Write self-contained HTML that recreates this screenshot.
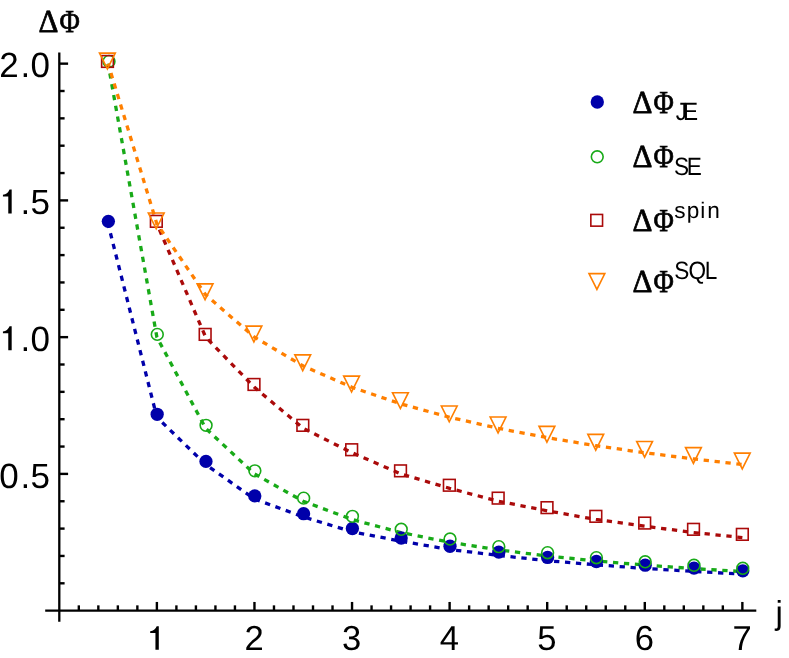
<!DOCTYPE html>
<html><head><meta charset="utf-8"><title>chart</title>
<style>html,body{margin:0;padding:0;background:#fff;}svg{display:block;will-change:transform;}</style>
</head><body>
<svg width="789" height="658" viewBox="0 0 789 658" text-rendering="geometricPrecision">
<rect width="789" height="658" fill="#fff"/>
<g stroke="#000" stroke-width="2.3" fill="none" stroke-linecap="butt">
<line x1="45.2" y1="610.65" x2="756.3" y2="610.65"/>
<line x1="59.3" y1="52.6" x2="59.3" y2="621.7"/>
</g>
<g stroke="#000" stroke-width="2.4" fill="none">
<line x1="78.82" y1="610.65" x2="78.82" y2="605.35"/>
<line x1="98.33" y1="610.65" x2="98.33" y2="605.35"/>
<line x1="117.85" y1="610.65" x2="117.85" y2="605.35"/>
<line x1="137.36" y1="610.65" x2="137.36" y2="605.35"/>
<line x1="156.88" y1="610.65" x2="156.88" y2="601.95"/>
<line x1="176.40" y1="610.65" x2="176.40" y2="605.35"/>
<line x1="195.91" y1="610.65" x2="195.91" y2="605.35"/>
<line x1="215.43" y1="610.65" x2="215.43" y2="605.35"/>
<line x1="234.94" y1="610.65" x2="234.94" y2="605.35"/>
<line x1="254.46" y1="610.65" x2="254.46" y2="601.95"/>
<line x1="273.98" y1="610.65" x2="273.98" y2="605.35"/>
<line x1="293.49" y1="610.65" x2="293.49" y2="605.35"/>
<line x1="313.01" y1="610.65" x2="313.01" y2="605.35"/>
<line x1="332.52" y1="610.65" x2="332.52" y2="605.35"/>
<line x1="352.04" y1="610.65" x2="352.04" y2="601.95"/>
<line x1="371.56" y1="610.65" x2="371.56" y2="605.35"/>
<line x1="391.07" y1="610.65" x2="391.07" y2="605.35"/>
<line x1="410.59" y1="610.65" x2="410.59" y2="605.35"/>
<line x1="430.10" y1="610.65" x2="430.10" y2="605.35"/>
<line x1="449.62" y1="610.65" x2="449.62" y2="601.95"/>
<line x1="469.14" y1="610.65" x2="469.14" y2="605.35"/>
<line x1="488.65" y1="610.65" x2="488.65" y2="605.35"/>
<line x1="508.17" y1="610.65" x2="508.17" y2="605.35"/>
<line x1="527.68" y1="610.65" x2="527.68" y2="605.35"/>
<line x1="547.20" y1="610.65" x2="547.20" y2="601.95"/>
<line x1="566.72" y1="610.65" x2="566.72" y2="605.35"/>
<line x1="586.23" y1="610.65" x2="586.23" y2="605.35"/>
<line x1="605.75" y1="610.65" x2="605.75" y2="605.35"/>
<line x1="625.26" y1="610.65" x2="625.26" y2="605.35"/>
<line x1="644.78" y1="610.65" x2="644.78" y2="601.95"/>
<line x1="664.30" y1="610.65" x2="664.30" y2="605.35"/>
<line x1="683.81" y1="610.65" x2="683.81" y2="605.35"/>
<line x1="703.33" y1="610.65" x2="703.33" y2="605.35"/>
<line x1="722.84" y1="610.65" x2="722.84" y2="605.35"/>
<line x1="742.36" y1="610.65" x2="742.36" y2="601.95"/>
<line x1="59.3" y1="583.30" x2="64.60" y2="583.30"/>
<line x1="59.3" y1="555.95" x2="64.60" y2="555.95"/>
<line x1="59.3" y1="528.60" x2="64.60" y2="528.60"/>
<line x1="59.3" y1="501.25" x2="64.60" y2="501.25"/>
<line x1="59.3" y1="473.90" x2="68.10" y2="473.90"/>
<line x1="59.3" y1="446.55" x2="64.60" y2="446.55"/>
<line x1="59.3" y1="419.20" x2="64.60" y2="419.20"/>
<line x1="59.3" y1="391.85" x2="64.60" y2="391.85"/>
<line x1="59.3" y1="364.50" x2="64.60" y2="364.50"/>
<line x1="59.3" y1="337.15" x2="68.10" y2="337.15"/>
<line x1="59.3" y1="309.80" x2="64.60" y2="309.80"/>
<line x1="59.3" y1="282.45" x2="64.60" y2="282.45"/>
<line x1="59.3" y1="255.10" x2="64.60" y2="255.10"/>
<line x1="59.3" y1="227.75" x2="64.60" y2="227.75"/>
<line x1="59.3" y1="200.40" x2="68.10" y2="200.40"/>
<line x1="59.3" y1="173.05" x2="64.60" y2="173.05"/>
<line x1="59.3" y1="145.70" x2="64.60" y2="145.70"/>
<line x1="59.3" y1="118.35" x2="64.60" y2="118.35"/>
<line x1="59.3" y1="91.00" x2="64.60" y2="91.00"/>
<line x1="59.3" y1="63.65" x2="68.10" y2="63.65"/>
</g>
<g font-family="Liberation Sans, sans-serif" font-size="34.6px" fill="#000">
<text x="254.16" y="650.2" text-anchor="middle">2</text>
<text x="351.74" y="650.2" text-anchor="middle">3</text>
<text x="449.32" y="650.2" text-anchor="middle">4</text>
<text x="546.90" y="650.2" text-anchor="middle">5</text>
<text x="644.48" y="650.2" text-anchor="middle">6</text>
<text x="742.06" y="650.2" text-anchor="middle">7</text>
<text x="-0.7 20.6 30.45" y="77.25" font-size="35px">2.0</text>
<text x="20.6 30.45" y="214.00" font-size="35px">.5</text>
<text x="20.6 30.45" y="350.75" font-size="35px">.0</text>
<text x="-0.7 20.6 30.45" y="487.50" font-size="35px">0.5</text>
<text x="775.5" y="624.1" font-size="33.2px">j</text>
</g>
<path fill="#000" d="M158.80,626.20 L158.80,649.75 L155.44,649.75 L155.44,632.91 L150.18,632.91 L150.18,631.21 Q154.79,630.91 156.70,626.20 Z"/>
<path fill="#000" d="M11.68,326.35 L11.68,350.25 L8.27,350.25 L8.27,333.16 L2.93,333.16 L2.93,331.44 Q7.61,331.13 9.54,326.35 Z"/>
<path fill="#000" d="M11.68,189.60 L11.68,213.50 L8.27,213.50 L8.27,196.41 L2.93,196.41 L2.93,194.69 Q7.61,194.38 9.54,189.60 Z"/>
<text transform="translate(38.6,32.25) scale(0.966,1)" font-family="Liberation Serif, serif" font-size="32.1px" fill="#000" stroke="#000" stroke-width="0.75" stroke-linejoin="miter">Δ</text>
<text transform="translate(59.50,32.25) scale(0.865,1)" font-family="Liberation Serif, serif" font-size="32.1px" fill="#000" stroke="#000" stroke-width="0.75" stroke-linejoin="miter">Φ</text>
<polyline points="108.09,223.86 156.88,417.26 205.67,464.46 254.46,498.99 303.25,516.84 352.04,531.70 400.83,541.18 449.62,549.49 498.41,555.39 547.20,560.72 595.99,564.75 644.78,568.45 693.57,571.38 742.36,574.10" fill="none" stroke="#0000AA" stroke-width="3.3" stroke-dasharray="5.3 5.66" stroke-dashoffset="1.3" stroke-linejoin="round"/>
<polyline points="108.09,63.65 156.88,337.15 205.67,428.32 254.46,473.90 303.25,501.25 352.04,519.48 400.83,532.51 449.62,542.27 498.41,549.87 547.20,555.95 595.99,560.92 644.78,565.07 693.57,568.57 742.36,571.58" fill="none" stroke="#18AA18" stroke-width="3.3" stroke-dasharray="5.3 5.66" stroke-dashoffset="1.1" stroke-linejoin="round"/>
<polyline points="156.88,223.86 205.67,337.15 254.46,387.34 303.25,428.32 352.04,452.74 400.83,473.90 449.62,488.34 498.41,501.25 547.20,510.78 595.99,519.48 644.78,526.25 693.57,532.51 742.36,537.55" fill="none" stroke="#AA0A0A" stroke-width="3.3" stroke-dasharray="5.3 5.66" stroke-dashoffset="4.6" stroke-linejoin="round"/>
<polyline points="108.09,63.65 156.88,223.86 205.67,294.84 254.46,337.15 303.25,366.02 352.04,387.34 400.83,403.90 449.62,417.26 498.41,428.32 547.20,437.67 595.99,445.72 644.78,452.74 693.57,458.94 742.36,464.46" fill="none" stroke="#FF7F00" stroke-width="3.3" stroke-dasharray="5.3 5.66" stroke-dashoffset="1.1" stroke-linejoin="round"/>
<circle cx="108.36" cy="221.33" r="6.65" fill="#0000AA"/>
<circle cx="157.16" cy="414.31" r="6.65" fill="#0000AA"/>
<circle cx="205.97" cy="461.42" r="6.65" fill="#0000AA"/>
<circle cx="254.77" cy="495.88" r="6.65" fill="#0000AA"/>
<circle cx="303.58" cy="513.69" r="6.65" fill="#0000AA"/>
<circle cx="352.38" cy="528.51" r="6.65" fill="#0000AA"/>
<circle cx="401.18" cy="537.98" r="6.65" fill="#0000AA"/>
<circle cx="449.99" cy="546.27" r="6.65" fill="#0000AA"/>
<circle cx="498.79" cy="552.16" r="6.65" fill="#0000AA"/>
<circle cx="547.59" cy="557.47" r="6.65" fill="#0000AA"/>
<circle cx="596.40" cy="561.49" r="6.65" fill="#0000AA"/>
<circle cx="645.20" cy="565.19" r="6.65" fill="#0000AA"/>
<circle cx="694.01" cy="568.11" r="6.65" fill="#0000AA"/>
<circle cx="742.81" cy="570.83" r="6.65" fill="#0000AA"/>
<circle cx="108.99" cy="61.45" r="5.9" fill="none" stroke="#18AA18" stroke-width="1.6"/>
<circle cx="157.28" cy="334.38" r="5.9" fill="none" stroke="#18AA18" stroke-width="1.6"/>
<circle cx="206.07" cy="425.35" r="5.9" fill="none" stroke="#18AA18" stroke-width="1.6"/>
<circle cx="254.86" cy="470.84" r="5.9" fill="none" stroke="#18AA18" stroke-width="1.6"/>
<circle cx="303.65" cy="498.13" r="5.9" fill="none" stroke="#18AA18" stroke-width="1.6"/>
<circle cx="352.44" cy="516.33" r="5.9" fill="none" stroke="#18AA18" stroke-width="1.6"/>
<circle cx="401.23" cy="529.32" r="5.9" fill="none" stroke="#18AA18" stroke-width="1.6"/>
<circle cx="450.02" cy="539.07" r="5.9" fill="none" stroke="#18AA18" stroke-width="1.6"/>
<circle cx="498.81" cy="546.65" r="5.9" fill="none" stroke="#18AA18" stroke-width="1.6"/>
<circle cx="547.60" cy="552.72" r="5.9" fill="none" stroke="#18AA18" stroke-width="1.6"/>
<circle cx="596.39" cy="557.68" r="5.9" fill="none" stroke="#18AA18" stroke-width="1.6"/>
<circle cx="645.18" cy="561.81" r="5.9" fill="none" stroke="#18AA18" stroke-width="1.6"/>
<circle cx="693.97" cy="565.31" r="5.9" fill="none" stroke="#18AA18" stroke-width="1.6"/>
<circle cx="742.76" cy="568.31" r="5.9" fill="none" stroke="#18AA18" stroke-width="1.6"/>
<rect x="101.64" y="55.60" width="11.7" height="11.7" fill="none" stroke="#AA0A0A" stroke-width="1.6"/>
<rect x="150.48" y="215.48" width="11.7" height="11.7" fill="none" stroke="#AA0A0A" stroke-width="1.6"/>
<rect x="199.31" y="328.53" width="11.7" height="11.7" fill="none" stroke="#AA0A0A" stroke-width="1.6"/>
<rect x="248.15" y="378.61" width="11.7" height="11.7" fill="none" stroke="#AA0A0A" stroke-width="1.6"/>
<rect x="296.98" y="419.50" width="11.7" height="11.7" fill="none" stroke="#AA0A0A" stroke-width="1.6"/>
<rect x="345.82" y="443.88" width="11.7" height="11.7" fill="none" stroke="#AA0A0A" stroke-width="1.6"/>
<rect x="394.66" y="464.99" width="11.7" height="11.7" fill="none" stroke="#AA0A0A" stroke-width="1.6"/>
<rect x="443.49" y="479.40" width="11.7" height="11.7" fill="none" stroke="#AA0A0A" stroke-width="1.6"/>
<rect x="492.33" y="492.28" width="11.7" height="11.7" fill="none" stroke="#AA0A0A" stroke-width="1.6"/>
<rect x="541.17" y="501.79" width="11.7" height="11.7" fill="none" stroke="#AA0A0A" stroke-width="1.6"/>
<rect x="590.00" y="510.48" width="11.7" height="11.7" fill="none" stroke="#AA0A0A" stroke-width="1.6"/>
<rect x="638.84" y="517.22" width="11.7" height="11.7" fill="none" stroke="#AA0A0A" stroke-width="1.6"/>
<rect x="687.67" y="523.47" width="11.7" height="11.7" fill="none" stroke="#AA0A0A" stroke-width="1.6"/>
<rect x="736.51" y="528.51" width="11.7" height="11.7" fill="none" stroke="#AA0A0A" stroke-width="1.6"/>
<path d="M99.48,53.15 L115.30,53.15 L107.39,68.95 Z" fill="none" stroke="#FF7F00" stroke-width="1.6" stroke-linejoin="miter" stroke-miterlimit="10"/>
<path d="M148.32,213.03 L164.14,213.03 L156.23,228.83 Z" fill="none" stroke="#FF7F00" stroke-width="1.6" stroke-linejoin="miter" stroke-miterlimit="10"/>
<path d="M197.15,283.85 L212.97,283.85 L205.06,299.65 Z" fill="none" stroke="#FF7F00" stroke-width="1.6" stroke-linejoin="miter" stroke-miterlimit="10"/>
<path d="M245.99,326.08 L261.81,326.08 L253.90,341.88 Z" fill="none" stroke="#FF7F00" stroke-width="1.6" stroke-linejoin="miter" stroke-miterlimit="10"/>
<path d="M294.82,354.89 L310.64,354.89 L302.73,370.69 Z" fill="none" stroke="#FF7F00" stroke-width="1.6" stroke-linejoin="miter" stroke-miterlimit="10"/>
<path d="M343.66,376.16 L359.48,376.16 L351.57,391.96 Z" fill="none" stroke="#FF7F00" stroke-width="1.6" stroke-linejoin="miter" stroke-miterlimit="10"/>
<path d="M392.50,392.69 L408.32,392.69 L400.41,408.49 Z" fill="none" stroke="#FF7F00" stroke-width="1.6" stroke-linejoin="miter" stroke-miterlimit="10"/>
<path d="M441.33,406.01 L457.15,406.01 L449.24,421.81 Z" fill="none" stroke="#FF7F00" stroke-width="1.6" stroke-linejoin="miter" stroke-miterlimit="10"/>
<path d="M490.17,417.05 L505.99,417.05 L498.08,432.85 Z" fill="none" stroke="#FF7F00" stroke-width="1.6" stroke-linejoin="miter" stroke-miterlimit="10"/>
<path d="M539.01,426.39 L554.83,426.39 L546.92,442.19 Z" fill="none" stroke="#FF7F00" stroke-width="1.6" stroke-linejoin="miter" stroke-miterlimit="10"/>
<path d="M587.84,434.42 L603.66,434.42 L595.75,450.22 Z" fill="none" stroke="#FF7F00" stroke-width="1.6" stroke-linejoin="miter" stroke-miterlimit="10"/>
<path d="M636.68,441.43 L652.50,441.43 L644.59,457.23 Z" fill="none" stroke="#FF7F00" stroke-width="1.6" stroke-linejoin="miter" stroke-miterlimit="10"/>
<path d="M685.51,447.61 L701.33,447.61 L693.42,463.41 Z" fill="none" stroke="#FF7F00" stroke-width="1.6" stroke-linejoin="miter" stroke-miterlimit="10"/>
<path d="M734.35,453.12 L750.17,453.12 L742.26,468.92 Z" fill="none" stroke="#FF7F00" stroke-width="1.6" stroke-linejoin="miter" stroke-miterlimit="10"/>
<circle cx="597.30" cy="102.00" r="6.65" fill="#0000AA"/>
<circle cx="597.25" cy="156.80" r="5.9" fill="none" stroke="#18AA18" stroke-width="1.6"/>
<rect x="590.85" y="214.45" width="11.7" height="11.7" fill="none" stroke="#AA0A0A" stroke-width="1.6"/>
<path d="M588.99,273.60 L604.81,273.60 L596.90,289.40 Z" fill="none" stroke="#FF7F00" stroke-width="1.6" stroke-linejoin="miter" stroke-miterlimit="10"/>
<text transform="translate(632.6,113.0) scale(0.966,1)" font-family="Liberation Serif, serif" font-size="32.1px" fill="#000" stroke="#000" stroke-width="0.75" stroke-linejoin="miter">Δ</text>
<text transform="translate(653.50,113.0) scale(0.865,1)" font-family="Liberation Serif, serif" font-size="32.1px" fill="#000" stroke="#000" stroke-width="0.75" stroke-linejoin="miter">Φ</text>
<text transform="translate(675.7,119.6) scale(1,1.11)" font-family="Liberation Sans, sans-serif" font-size="22.6px" letter-spacing="-3.9" fill="#000">JE</text>
<text transform="translate(632.6,167.3) scale(0.966,1)" font-family="Liberation Serif, serif" font-size="32.1px" fill="#000" stroke="#000" stroke-width="0.75" stroke-linejoin="miter">Δ</text>
<text transform="translate(653.50,167.3) scale(0.865,1)" font-family="Liberation Serif, serif" font-size="32.1px" fill="#000" stroke="#000" stroke-width="0.75" stroke-linejoin="miter">Φ</text>
<text transform="translate(673.9,174.7) scale(1,1.11)" font-family="Liberation Sans, sans-serif" font-size="22.6px" letter-spacing="-2.2" fill="#000">SE</text>
<text transform="translate(632.6,230.8) scale(0.966,1)" font-family="Liberation Serif, serif" font-size="32.1px" fill="#000" stroke="#000" stroke-width="0.75" stroke-linejoin="miter">Δ</text>
<text transform="translate(653.50,230.8) scale(0.865,1)" font-family="Liberation Serif, serif" font-size="32.1px" fill="#000" stroke="#000" stroke-width="0.75" stroke-linejoin="miter">Φ</text>
<text transform="translate(674.35,217.7) scale(1,1.0)" font-family="Liberation Sans, sans-serif" font-size="22.6px" letter-spacing="1.0" fill="#000">spi<tspan dx="1.1">n</tspan></text>
<text transform="translate(632.6,292.2) scale(0.966,1)" font-family="Liberation Serif, serif" font-size="32.1px" fill="#000" stroke="#000" stroke-width="0.75" stroke-linejoin="miter">Δ</text>
<text transform="translate(653.50,292.2) scale(0.865,1)" font-family="Liberation Serif, serif" font-size="32.1px" fill="#000" stroke="#000" stroke-width="0.75" stroke-linejoin="miter">Φ</text>
<text transform="translate(674.2,279.2) scale(1,1.11)" font-family="Liberation Sans, sans-serif" font-size="22.6px" letter-spacing="-1.4" fill="#000">S<tspan dx="0.7">Q</tspan>L</text>
</svg>
</body></html>
